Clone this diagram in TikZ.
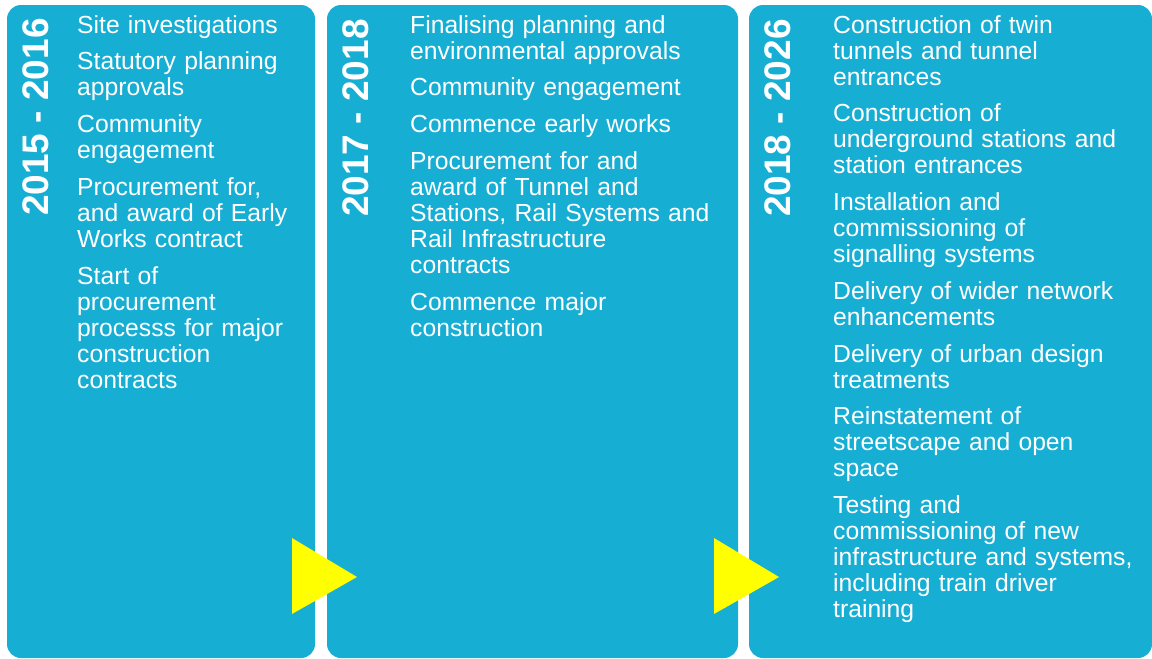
\documentclass[tikz,border=0pt]{standalone}
\usepackage{fontspec}
\setmainfont{Liberation Sans}
\usepackage{tikz}
\usetikzlibrary{positioning}
\definecolor{panelblue}{RGB}{23,174,212}
\definecolor{arrowyellow}{RGB}{255,255,0}

\begin{document}
\begin{tikzpicture}[x=1pt,y=-1pt,node distance=10.3pt,
                    every node/.style={text=white,inner sep=0pt}]
  \tikzstyle{panel}=[fill=panelblue,rounded corners=14pt]
  \tikzstyle{years}=[rotate=90,font=\fontsize{37}{40}\selectfont\bfseries]
  \tikzstyle{task}=[font=\fontsize{24.7}{26}\selectfont,align=left,
                    execute at begin node=\strut,execute at end node=\strut]
  \tikzstyle{pointer}=[fill=arrowyellow]

  \useasboundingbox (0,0) rectangle (1152,659);

  % the three phases
  \fill[panel] (7,5) rectangle (315,658);
  \fill[panel] (327,5) rectangle (738,658);
  \fill[panel] (749,5) rectangle (1152,658);

  % arrows between phases
  \fill[pointer] (292,538) -- (357,577) -- (292,614) -- cycle;
  \fill[pointer] (714,538) -- (779,577) -- (714,614) -- cycle;

  % phase 1
  \node[years] (Y1) at (36,117) {2015 - 2016};
  \node[task,text width=235pt,anchor=north west] (A1) at (77,14.8) {Site investigations};
  \node[task,text width=235pt] (A2) [below=of A1] {Statutory planning\\approvals};
  \node[task,text width=235pt] (A3) [below=of A2] {Community\\engagement};
  \node[task,text width=235pt] (A4) [below=of A3] {Procurement for,\\and award of Early\\Works contract};
  \node[task,text width=235pt] (A5) [below=of A4] {Start of\\procurement\\processs for major\\construction\\contracts};

  % phase 2
  \node[years] (Y2) at (356,118) {2017 - 2018};
  \node[task,text width=320pt,anchor=north west] (B1) at (410,14.8) {Finalising planning and\\environmental approvals};
  \node[task,text width=320pt] (B2) [below=of B1] {Community engagement};
  \node[task,text width=320pt] (B3) [below=of B2] {Commence early works};
  \node[task,text width=320pt] (B4) [below=of B3] {Procurement for and\\award of Tunnel and\\Stations, Rail Systems and\\Rail Infrastructure\\contracts};
  \node[task,text width=320pt] (B5) [below=of B4] {Commence major\\construction};

  % phase 3
  \node[years] (Y3) at (778,118) {2018 - 2026};
  \node[task,text width=315pt,anchor=north west] (C1) at (833,14.8) {Construction of twin\\tunnels and tunnel\\entrances};
  \node[task,text width=315pt] (C2) [below=of C1] {Construction of\\underground stations and\\station entrances};
  \node[task,text width=315pt] (C3) [below=of C2] {Installation and\\commissioning of\\signalling systems};
  \node[task,text width=315pt] (C4) [below=of C3] {Delivery of wider network\\enhancements};
  \node[task,text width=315pt] (C5) [below=of C4] {Delivery of urban design\\treatments};
  \node[task,text width=315pt] (C6) [below=of C5] {Reinstatement of\\streetscape and open\\space};
  \node[task,text width=315pt] (C7) [below=of C6] {Testing and\\commissioning of new\\infrastructure and systems,\\including train driver\\training};
\end{tikzpicture}
\end{document}
